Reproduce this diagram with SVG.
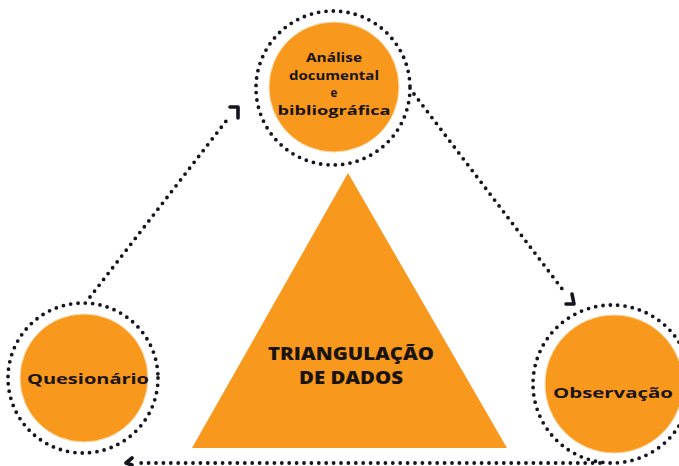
<svg xmlns="http://www.w3.org/2000/svg" width="679" height="466" viewBox="0 0 679 466">
<style>
.ring{fill:none;stroke:#15151f;stroke-width:3.8;stroke-linecap:round;stroke-dasharray:0 7.4}
.disc{fill:#F8981D;stroke:#fcd9a8;stroke-width:1}
.conn{fill:none;stroke:#15151f;stroke-width:3.8;stroke-linecap:round;stroke-dasharray:0 7.4}
.head{fill:none;stroke:#15151f;stroke-width:3.6;stroke-linecap:round;stroke-linejoin:round}
.lbl{font-family:"Open Sans","Liberation Sans",sans-serif;font-weight:700;fill:#1a1410;text-anchor:middle}
.big{font-family:"Open Sans","Liberation Sans",sans-serif;font-weight:800;fill:#1a1410;text-anchor:middle;font-size:17px}
</style>
<rect width="679" height="466" fill="#ffffff"/>
<g id="triangulacao">
<polygon points="348,173 192,448 507,448" fill="#F8981D"/>
<text class="big" x="351" y="360" textLength="166" lengthAdjust="spacingAndGlyphs">TRIANGULAÇÃO</text>
<text class="big" x="351" y="384" textLength="104" lengthAdjust="spacingAndGlyphs">DE DADOS</text>
</g>
<g id="connectors">
<path class="conn" d="M90,297 L230,116"/>
<path class="head" d="M230,107 L238,107 L238,118"/>
<path class="conn" d="M414,94 L566,294"/>
<path class="head" d="M566,304 L574,304 L572,294"/>
<path class="conn" d="M600,463 L136,463"/>
<path class="head" d="M132,458 L126,463 L132,465"/>
</g>
<g id="analise">
<circle class="disc" cx="334" cy="87" r="65"/>
<circle class="ring" cx="333" cy="88" r="77"/>
<text class="lbl" x="334" y="62" font-size="11.5" textLength="56" lengthAdjust="spacingAndGlyphs">Análise</text>
<text class="lbl" x="334" y="80" font-size="11.5" textLength="90" lengthAdjust="spacingAndGlyphs">documental</text>
<text class="lbl" x="334" y="97" font-size="11.5">e</text>
<text class="lbl" x="334" y="115" font-size="11.5" textLength="113" lengthAdjust="spacingAndGlyphs">bibliográfica</text>
</g>
<g id="questionario">
<circle class="disc" cx="84" cy="378" r="64"/>
<circle class="ring" cx="83" cy="378" r="75"/>
<text class="lbl" x="88" y="384" font-size="15" textLength="122" lengthAdjust="spacingAndGlyphs">Quesionário</text>
</g>
<g id="observacao">
<circle class="disc" cx="614" cy="384" r="69"/>
<circle class="ring" cx="612" cy="384" r="79"/>
<text class="lbl" x="613" y="398" font-size="14" textLength="120" lengthAdjust="spacingAndGlyphs">Observação</text>
</g>
</svg>
